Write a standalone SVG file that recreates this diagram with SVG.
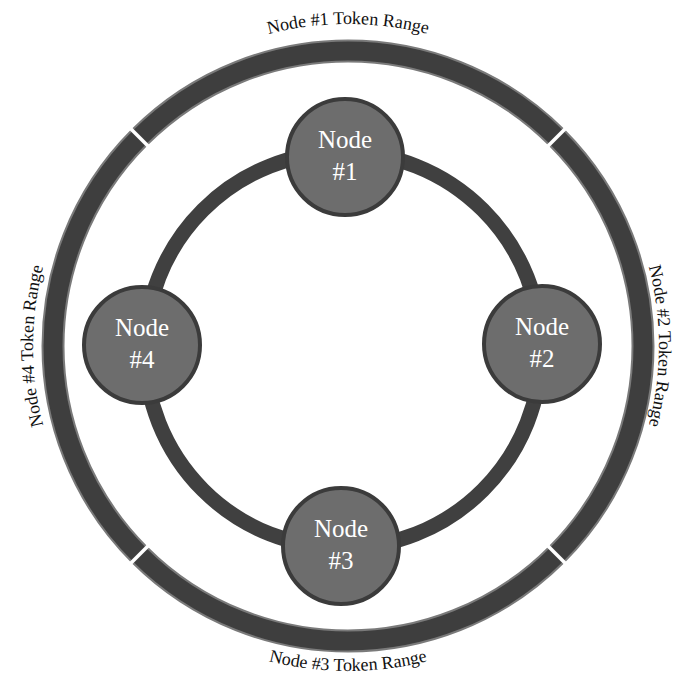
<svg xmlns="http://www.w3.org/2000/svg" width="675" height="677" viewBox="0 0 675 677">
  <style>
    .lbl { font-family: "Liberation Serif", "Times New Roman", serif; font-size: 18px; fill: #111; }
    .ntxt { font-family: "Liberation Serif", "Times New Roman", serif; font-size: 25px; fill: #ffffff; text-anchor: middle; }
    .node { fill: #6d6d6d; stroke: #3b3b3b; stroke-width: 4; }
    .gap { stroke: #ffffff; stroke-width: 3.5; }
  </style>
  <defs>
    <path id="pTop" d="M 26 346 A 322 322 0 0 1 670 346"/>
    <path id="pRight" d="M 348 35 A 311 311 0 0 1 348 657"/>
    <path id="pLeft" d="M 348 661 A 315 315 0 0 1 348 31"/>
    <path id="pBottom" d="M 23 346 A 325 325 0 0 0 673 346"/>
  </defs>
  <rect width="675" height="677" fill="#ffffff"/>

  <g id="token-ranges">
    <circle cx="348" cy="346" r="295" fill="none" stroke="#7a7a7a" stroke-width="23"/>
    <circle cx="348" cy="346" r="295" fill="none" stroke="#3e3e3e" stroke-width="19"/>
    <line class="gap" x1="150" y1="148" x2="126" y2="124"/>
    <line class="gap" x1="546" y1="148" x2="570" y2="124"/>
    <line class="gap" x1="546" y1="544" x2="570" y2="568"/>
    <line class="gap" x1="150" y1="544" x2="126" y2="568"/>
    <text class="lbl"><textPath href="#pTop" startOffset="50%" text-anchor="middle">Node #1 Token Range</textPath></text>
    <text class="lbl"><textPath href="#pRight" startOffset="50%" text-anchor="middle">Node #2 Token Range</textPath></text>
    <text class="lbl"><textPath href="#pBottom" startOffset="50%" text-anchor="middle">Node #3 Token Range</textPath></text>
    <text class="lbl"><textPath href="#pLeft" startOffset="50%" text-anchor="middle">Node #4 Token Range</textPath></text>
  </g>

  <g id="connectors">
    <circle cx="343" cy="350" r="198" fill="none" stroke="#404040" stroke-width="15"/>
  </g>

  <g id="node1">
    <circle class="node" cx="345" cy="157" r="58"/>
    <text class="ntxt" x="345" y="148">Node</text>
    <text class="ntxt" x="345" y="180">#1</text>
  </g>
  <g id="node2">
    <circle class="node" cx="542" cy="344" r="58"/>
    <text class="ntxt" x="542" y="335">Node</text>
    <text class="ntxt" x="542" y="367">#2</text>
  </g>
  <g id="node3">
    <circle class="node" cx="341" cy="546" r="58"/>
    <text class="ntxt" x="341" y="537">Node</text>
    <text class="ntxt" x="341" y="569">#3</text>
  </g>
  <g id="node4">
    <circle class="node" cx="142" cy="345" r="58"/>
    <text class="ntxt" x="142" y="336">Node</text>
    <text class="ntxt" x="142" y="368">#4</text>
  </g>
</svg>
